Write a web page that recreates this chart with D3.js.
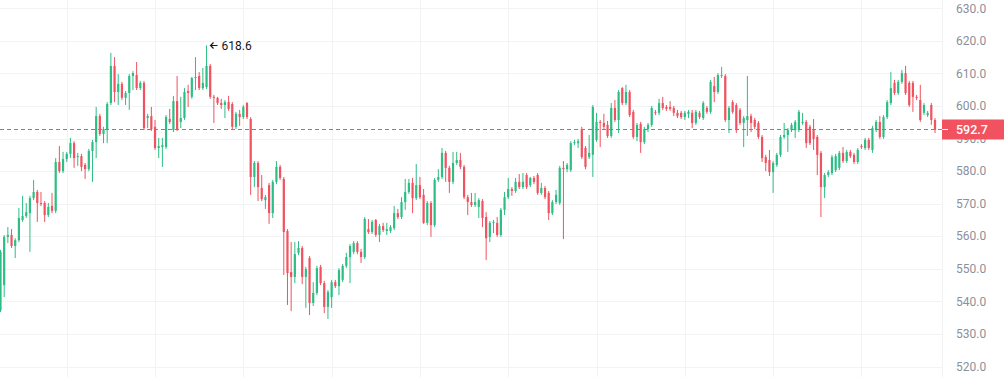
<!DOCTYPE html>
<html>
<head>
<meta charset="utf-8">
<script src="https://cdn.jsdelivr.net/npm/d3@7"></script>
<style>
  html, body { margin: 0; padding: 0; background: #fff; }
  svg { display: block; font-family: Roboto, "Noto Sans", sans-serif; }
</style>
</head>
<body>
<svg id="chart" width="1004" height="377"></svg>
<script>
// OHLC values, one line per ~42 candles
const open = [
  537.3, 545.0, 559.8, 560.4, 557.0, 558.8, 565.0, 566.2, 567.1, 571.7, 573.6, 570.2, 570.2, 566.5, 569.3, 567.8, 582.8, 580.0, 583.7, 585.3, 588.6, 584.3, 584.6, 581.9, 580.6, 586.2, 588.9, 596.9, 591.4, 592.9, 600.9, 612.3, 604.3, 606.8, 602.5, 604.0, 609.2, 609.5, 605.5, 607.1, 596.3, 596.9, 593.6, 587.1,
  587.4, 587.4, 596.0, 592.6, 601.5, 595.1, 596.3, 604.6, 602.8, 608.6, 609.2, 605.5, 605.8, 612.3, 602.8, 602.5, 600.9, 600.3, 601.2, 600.6, 593.6, 597.6, 596.6, 600.9, 596.0, 578.2, 582.5, 574.8, 571.1, 575.7, 567.1, 576.7, 581.3, 577.6, 561.6, 549.0, 547.5, 554.9, 556.4, 547.5, 553.3, 539.5,
  542.6, 550.6, 545.6, 538.3, 541.3, 545.9, 544.7, 546.6, 550.9, 553.6, 555.2, 557.9, 555.2, 553.6, 562.2, 561.3, 565.0, 560.4, 563.1, 561.6, 561.6, 562.5, 567.1, 565.9, 570.5, 573.6, 576.4, 571.7, 575.7, 572.7, 564.1, 570.2, 563.4, 577.3, 578.2, 585.6, 581.0, 576.7, 582.5, 583.4, 581.3, 572.0,
  570.5, 569.6, 569.0, 570.8, 565.9, 559.8, 564.1, 564.1, 560.4, 568.1, 572.0, 574.5, 573.9, 576.7, 575.1, 578.8, 575.7, 577.9, 578.8, 573.3, 574.8, 573.3, 567.1, 570.5, 570.2, 581.0, 580.6, 580.3, 588.6, 588.6, 592.9, 587.1, 584.3, 585.0, 589.6, 595.1, 594.8, 594.2, 590.8, 599.4, 595.7, 605.5,
  600.9, 604.3, 598.2, 590.5, 594.5, 588.9, 592.9, 594.2, 598.2, 597.9, 600.9, 599.7, 599.7, 599.4, 597.9, 597.9, 596.6, 597.6, 597.9, 594.8, 597.9, 596.3, 599.4, 598.2, 606.1, 604.3, 609.2, 609.2, 595.7, 601.2, 600.3, 598.8, 594.8, 595.7, 596.9, 595.7, 594.8, 590.5, 584.3, 583.4, 579.7, 581.9,
  585.0, 590.5, 591.1, 592.6, 592.6, 592.6, 594.8, 595.1, 593.6, 592.6, 590.5, 585.6, 575.1, 578.8, 579.4, 580.3, 581.0, 585.6, 583.1, 585.9, 585.0, 582.8, 587.7, 587.1, 589.6, 586.5, 592.6, 595.1, 590.5, 596.6, 600.9, 607.1, 604.0, 607.4, 610.1, 607.1, 607.1, 602.8, 601.8, 597.9, 597.2, 600.3, 595.7
];
const high = [
  555.8, 560.4, 562.8, 562.2, 559.4, 568.7, 572.4, 570.2, 572.4, 577.3, 574.2, 573.6, 570.8, 570.2, 573.3, 584.0, 587.7, 585.9, 585.9, 590.2, 589.2, 585.6, 585.3, 582.5, 586.8, 589.6, 599.7, 597.6, 593.6, 601.2, 616.3, 615.0, 609.8, 607.4, 604.6, 609.8, 610.7, 613.5, 607.7, 607.7, 597.6, 599.7, 595.7, 590.2,
  590.2, 597.2, 599.1, 603.1, 609.2, 602.8, 605.5, 606.5, 608.9, 615.0, 610.4, 611.7, 618.6, 612.9, 603.4, 602.8, 602.2, 601.8, 603.1, 601.2, 598.2, 598.8, 600.3, 601.2, 596.6, 583.1, 583.1, 578.8, 572.7, 576.4, 577.3, 583.1, 581.9, 578.2, 562.2, 558.2, 558.2, 558.5, 557.0, 550.6, 553.9, 545.9,
  550.9, 551.2, 546.3, 543.5, 546.6, 546.6, 550.2, 551.5, 554.9, 557.6, 558.5, 558.5, 556.1, 565.9, 565.3, 565.0, 565.3, 563.8, 564.1, 564.1, 563.4, 569.3, 568.4, 572.0, 577.6, 577.6, 577.9, 582.2, 578.2, 574.5, 570.8, 570.8, 577.9, 580.6, 587.1, 586.2, 581.6, 585.9, 585.9, 585.6, 581.9, 572.7,
  573.3, 573.3, 571.7, 571.4, 567.4, 564.7, 565.0, 565.9, 568.7, 573.6, 577.9, 575.1, 577.9, 579.1, 579.4, 579.4, 578.2, 578.5, 579.4, 576.4, 575.4, 573.9, 571.1, 574.2, 581.6, 583.1, 582.5, 589.2, 589.6, 589.9, 593.6, 587.7, 591.1, 600.3, 597.9, 595.7, 597.6, 595.4, 600.9, 601.8, 604.9, 605.8,
  606.5, 604.9, 598.8, 594.8, 595.1, 593.6, 594.8, 600.0, 598.8, 602.2, 602.8, 600.3, 601.5, 600.0, 598.8, 598.5, 598.5, 598.8, 598.8, 598.8, 598.5, 601.5, 600.0, 608.0, 608.9, 610.1, 612.0, 609.8, 600.0, 601.8, 600.9, 599.4, 596.9, 609.2, 597.6, 596.3, 595.4, 591.1, 585.0, 586.5, 583.1, 585.6,
  591.1, 594.8, 593.2, 594.8, 595.7, 598.8, 597.9, 595.7, 594.2, 596.0, 591.1, 586.2, 579.4, 580.3, 585.0, 585.3, 586.2, 587.4, 586.5, 586.5, 585.6, 587.1, 588.3, 590.2, 590.2, 593.9, 595.7, 596.9, 597.2, 601.8, 610.4, 608.0, 608.0, 611.1, 612.3, 607.7, 607.7, 603.4, 606.5, 600.9, 598.5, 600.9, 596.3
];
const low = [
  536.7, 541.3, 557.9, 556.4, 553.3, 558.2, 564.4, 565.6, 555.2, 571.1, 564.4, 569.3, 564.4, 565.9, 567.1, 567.1, 579.4, 579.4, 582.8, 584.0, 581.0, 581.6, 580.0, 577.6, 580.0, 576.7, 584.0, 590.8, 588.6, 588.6, 600.3, 601.2, 600.3, 601.8, 600.3, 598.8, 604.9, 604.9, 604.9, 592.6, 593.2, 592.3, 586.5, 584.0,
  581.3, 586.8, 594.5, 592.0, 592.3, 593.2, 595.7, 599.7, 602.2, 604.9, 604.9, 604.9, 605.2, 602.2, 594.8, 600.3, 599.1, 596.3, 598.5, 592.9, 592.9, 593.9, 596.0, 596.0, 572.7, 575.1, 570.8, 570.8, 568.4, 563.8, 565.6, 576.0, 577.3, 548.1, 538.9, 537.0, 545.6, 554.2, 545.3, 538.0, 535.8, 538.6,
  541.9, 545.0, 536.4, 534.6, 538.0, 544.1, 541.9, 545.9, 550.2, 545.6, 554.5, 554.5, 551.8, 553.0, 560.7, 560.7, 559.8, 558.2, 561.3, 560.4, 561.0, 561.9, 565.3, 565.3, 568.1, 573.0, 567.1, 571.1, 571.4, 563.8, 563.4, 559.8, 562.8, 576.7, 577.6, 576.7, 573.3, 576.0, 581.9, 580.6, 571.4, 566.5,
  569.0, 569.0, 565.6, 562.8, 552.7, 558.2, 561.0, 559.8, 559.8, 566.5, 571.4, 572.4, 573.3, 574.5, 574.5, 574.5, 575.1, 576.0, 572.7, 572.7, 571.4, 565.0, 566.5, 569.9, 569.6, 559.1, 579.7, 579.7, 588.0, 587.1, 583.7, 580.6, 583.7, 578.2, 589.0, 587.4, 592.9, 590.2, 590.2, 595.1, 591.7, 600.3,
  600.3, 596.6, 589.9, 589.2, 585.6, 588.3, 592.0, 593.6, 597.2, 597.2, 598.8, 598.5, 598.5, 596.9, 596.3, 596.0, 595.7, 596.3, 593.2, 594.2, 596.0, 595.7, 597.6, 597.6, 601.2, 603.7, 608.6, 595.1, 591.7, 597.6, 591.7, 594.2, 587.4, 590.8, 592.0, 592.9, 589.9, 582.8, 580.0, 578.5, 573.3, 581.3,
  584.3, 589.9, 585.9, 592.0, 590.2, 592.0, 594.2, 587.1, 588.0, 586.5, 578.8, 565.9, 571.7, 578.2, 578.8, 579.7, 580.3, 582.5, 582.5, 584.0, 582.2, 582.2, 586.8, 586.5, 586.5, 585.6, 592.0, 589.9, 589.9, 596.0, 600.3, 603.4, 603.4, 606.8, 603.4, 599.7, 598.2, 601.8, 595.1, 597.2, 596.6, 594.2, 591.7
];
const close = [
  555.2, 559.8, 560.4, 557.0, 558.8, 565.6, 566.2, 567.4, 571.7, 573.6, 570.2, 569.9, 566.5, 569.0, 567.8, 582.8, 580.0, 583.7, 585.3, 588.6, 584.0, 584.6, 581.3, 580.6, 586.2, 588.9, 596.9, 591.4, 592.9, 600.6, 612.3, 604.3, 606.8, 602.5, 604.0, 609.2, 610.1, 605.5, 607.1, 593.2, 596.9, 592.9, 587.1, 587.7,
  588.0, 596.6, 595.1, 601.5, 592.9, 596.3, 604.3, 604.0, 608.6, 608.9, 605.5, 607.1, 612.3, 602.8, 602.5, 600.9, 600.3, 601.2, 599.1, 593.6, 597.6, 596.6, 599.7, 596.6, 578.2, 582.5, 575.1, 571.4, 572.0, 567.1, 576.7, 581.3, 577.9, 561.3, 548.7, 547.5, 554.5, 556.4, 547.5, 549.9, 539.5, 542.6,
  550.2, 545.6, 538.3, 542.9, 545.9, 544.7, 549.6, 550.9, 553.6, 557.0, 557.9, 555.2, 553.6, 565.3, 561.3, 564.4, 560.4, 563.1, 561.9, 562.2, 562.8, 567.1, 565.9, 570.5, 573.6, 576.4, 571.7, 575.7, 572.0, 564.1, 570.2, 563.4, 577.3, 578.2, 585.6, 581.0, 576.7, 582.5, 583.4, 581.3, 572.0, 570.5,
  569.6, 570.5, 571.1, 565.6, 559.4, 564.1, 564.4, 560.4, 568.1, 572.0, 574.5, 573.9, 576.7, 575.1, 576.7, 575.1, 577.9, 576.7, 573.3, 574.8, 572.0, 567.1, 570.5, 572.7, 581.0, 580.6, 581.9, 588.6, 588.9, 589.2, 584.3, 581.3, 585.6, 599.7, 595.1, 594.8, 593.6, 590.8, 599.4, 595.7, 604.3, 600.9,
  604.3, 597.2, 590.5, 594.2, 588.9, 592.9, 594.2, 599.4, 597.9, 600.9, 599.4, 599.1, 599.1, 597.9, 596.9, 596.6, 597.9, 598.2, 594.8, 598.2, 596.6, 600.9, 598.2, 607.4, 604.3, 609.5, 609.5, 595.7, 599.4, 598.2, 592.6, 594.8, 596.3, 596.9, 594.8, 593.6, 590.5, 584.0, 582.5, 579.7, 582.5, 585.0,
  590.5, 591.1, 592.6, 594.2, 595.1, 598.2, 595.1, 588.6, 588.6, 589.9, 585.0, 575.1, 578.8, 579.7, 584.3, 584.6, 585.6, 583.1, 585.9, 584.6, 582.8, 586.5, 587.4, 589.6, 587.1, 593.2, 595.1, 590.5, 596.6, 601.2, 605.5, 604.0, 607.4, 610.1, 604.0, 600.3, 602.8, 602.5, 595.7, 600.3, 597.9, 595.7, 592.7
];

const priceTicks = [520, 530, 540, 550, 560, 570, 580, 590, 600, 610, 620, 630];
// candle indexes where the vertical time grid lines fall
const timeGridIdx = [18, 42, 66, 90, 114, 138, 162, 186, 210, 234];
const lastPrice = close[close.length - 1];

const upColor = "#2ebd85";
const downColor = "#f0525f";

const W = 1004, H = 377;
const plotRight = 942;
const n = Math.min(open.length, high.length, low.length, close.length);

const svg = d3.select("#chart");

const x = d3.scaleLinear()
    .domain([0, 254])
    .range([0.5, 935]);

const y = d3.scaleLinear()
    .domain([520, 630])
    .range([366.5, 8.3]);

// grid
const grid = svg.append("g");
grid.selectAll(".hgrid")
    .data(priceTicks)
    .enter().append("line")
    .attr("x1", 0).attr("x2", plotRight)
    .attr("y1", d => Math.round(y(d)) + 0.5)
    .attr("y2", d => Math.round(y(d)) + 0.5)
    .attr("stroke", "#f2f3f5");
grid.selectAll(".vgrid")
    .data(timeGridIdx)
    .enter().append("line")
    .attr("x1", d => Math.round(x(d)) + 0.5)
    .attr("x2", d => Math.round(x(d)) + 0.5)
    .attr("y1", 0).attr("y2", H)
    .attr("stroke", "#f2f3f5");
grid.append("line")
    .attr("x1", plotRight + 0.5).attr("x2", plotRight + 0.5)
    .attr("y1", 0).attr("y2", H)
    .attr("stroke", "#f0f1f4");

// candles
const idx = d3.range(n);
const candles = svg.append("g");
candles.selectAll(".wick")
    .data(idx)
    .enter().append("line")
    .attr("x1", i => x(i)).attr("x2", i => x(i))
    .attr("y1", i => y(high[i]))
    .attr("y2", i => y(low[i]))
    .attr("stroke", i => close[i] >= open[i] ? upColor : downColor)
    .attr("stroke-width", 1);
candles.selectAll(".body")
    .data(idx)
    .enter().append("rect")
    .attr("x", i => x(i) - 1.1)
    .attr("width", 2.2)
    .attr("y", i => y(Math.max(open[i], close[i])))
    .attr("height", i => Math.max(1, Math.abs(y(open[i]) - y(close[i]))))
    .attr("fill", i => close[i] >= open[i] ? upColor : downColor);

// last price line
const lastY = Math.floor(y(lastPrice)) + 0.5;
svg.append("line")
    .attr("x1", 0).attr("x2", plotRight)
    .attr("y1", lastY).attr("y2", lastY)
    .attr("stroke", downColor)
    .attr("stroke-width", 1)
    .attr("stroke-dasharray", "4,3");

// price axis
const axis = svg.append("g");
axis.selectAll("text")
    .data(priceTicks)
    .enter().append("text")
    .attr("x", 956)
    .attr("y", d => y(d))
    .attr("dy", "0.35em")
    .attr("fill", "#8a909c")
    .style("font-size", "12px")
    .text(d => d.toFixed(1));

// last price label
svg.append("rect")
    .attr("x", plotRight)
    .attr("y", lastY - 10)
    .attr("width", W - plotRight)
    .attr("height", 20)
    .attr("fill", downColor);
svg.append("line")
    .attr("x1", plotRight).attr("x2", plotRight + 6)
    .attr("y1", lastY).attr("y2", lastY)
    .attr("stroke", "#fff");
svg.append("text")
    .attr("x", 956)
    .attr("y", lastY)
    .attr("dy", "0.35em")
    .attr("fill", "#fff")
    .style("font-size", "12.5px")
    .style("font-weight", "500")
    .text(lastPrice.toFixed(1));

// max high marker
const maxI = d3.maxIndex(idx, i => high[i]);
const ax = x(maxI) + 3, ay = Math.round(y(high[maxI])) + 0.5;
svg.append("path")
    .attr("d", `M${ax + 8},${ay}H${ax + 1}M${ax + 4},${ay - 3}L${ax + 1},${ay}L${ax + 4},${ay + 3}`)
    .attr("fill", "none")
    .attr("stroke", "#131722")
    .attr("stroke-width", 1.2);
svg.append("text")
    .attr("x", ax + 12)
    .attr("y", y(high[maxI]))
    .attr("dy", "0.35em")
    .attr("fill", "#131722")
    .style("font-size", "12px")
    .text(high[maxI].toFixed(1));
</script>
</body>
</html>
